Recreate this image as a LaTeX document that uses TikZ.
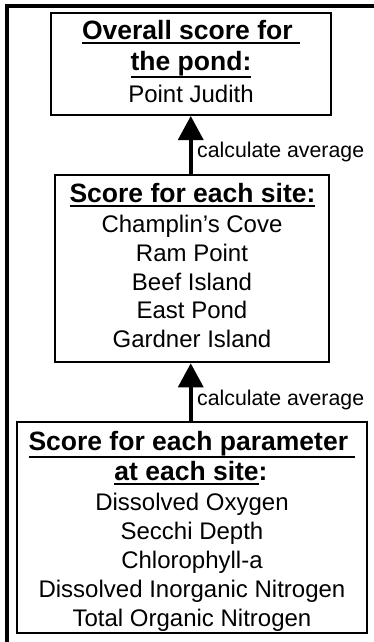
\documentclass[tikz,border=0pt]{standalone}
\usepackage{fontspec}
\setmainfont{Liberation Sans}
\usetikzlibrary{arrows.meta}
\newcommand\ulbox[2][-4.5pt]{\setbox0=\hbox{#2}\rlap{\rule[#1]{\wd0}{1.8pt}}\box0}
\tikzset{
  boxnode/.style={draw=black, line width=2pt, inner sep=0pt, fill=white},
  headline/.style={anchor=base, inner sep=0pt, font=\fontsize{26.5}{30}\selectfont\bfseries},
  itemline/.style={anchor=base, inner sep=0pt, font=\fontsize{24}{28}\selectfont},
  arrlabel/.style={anchor=base west, inner sep=0pt, font=\fontsize{21.3}{25}\selectfont},
  uparrow/.style={line width=3.5pt, -{Triangle[width=25pt,length=24pt]}},
  frameline/.style={line width=4pt}
}
\begin{document}
\begin{tikzpicture}[x=1pt,y=-1pt]
\useasboundingbox (0,0) rectangle (374,642);
% outer frame (left and top edges only visible)
\coordinate (f1) at (6.5,642);
\coordinate (f2) at (6.5,6.5);
\coordinate (f3) at (374,6.5);
\draw[frameline] (f1) -- (f2) -- (f3);
% boxes
\node[boxnode, minimum width=280.5pt, minimum height=101.5pt] (top) at (190.75,64.25) {};
\node[boxnode, minimum width=274.3pt, minimum height=187.8pt] (mid) at (192.15,268.4) {};
\node[boxnode, minimum width=350pt, minimum height=211.3pt] (bot) at (192,527.35) {};
% top box text
\node[headline] (t1) at (191,39.5) {\ulbox{Overall score for }};
\node[headline] (t2) at (191,70.5) {\ulbox[-7.5pt]{the pond:}};
\node[itemline] (t3) at (191,102) {Point Judith};
% middle box text
\node[headline] (m1) at (192.5,202) {\ulbox{Score for each site:}};
\node[itemline] (m2) at (192,232) {Champlin’s Cove};
\node[itemline] (m3) at (192,261) {Ram Point};
\node[itemline] (m4) at (192,290) {Beef Island};
\node[itemline] (m5) at (192,318.5) {East Pond};
\node[itemline] (m6) at (192,347.5) {Gardner Island};
% bottom box text
\node[headline] (b1) at (192,450) {\ulbox[-7.5pt]{Score for each parameter }};
\node[headline] (b2) at (191,480) {\ulbox[-4.5pt]{at each site}:};
\node[itemline] (b3) at (192,510) {Dissolved Oxygen};
\node[itemline] (b4) at (192,539) {Secchi Depth};
\node[itemline] (b5) at (192,568) {Chlorophyll-a};
\node[itemline] (b6) at (192,597) {Dissolved Inorganic Nitrogen};
\node[itemline] (b7) at (192,626) {Total Organic Nitrogen};
% arrows
\draw[uparrow] (top.south |- mid.north) -- (top.south);
\draw[uparrow] (top.south |- bot.north) -- (top.south |- mid.south);
\node[arrlabel] (l1) at (197,157) {calculate average};
\node[arrlabel] (l2) at (197,405) {calculate average};
\end{tikzpicture}
\end{document}
